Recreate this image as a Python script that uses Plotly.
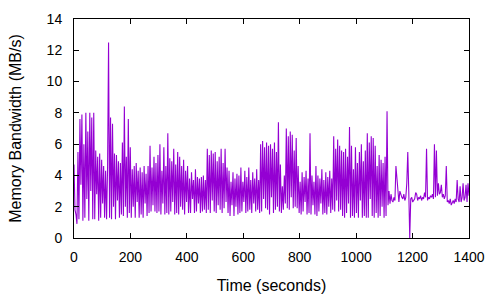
import plotly.graph_objects as go

STEP = 3.5  # sampling interval in seconds

bandwidth = [
    4.7, 1.8, 1.5, 0.9,
    5.5, 1.2, 7.6, 3.4, 7.9, 1.1, 6.0, 1.3, 8.0, 2.5, 6.8, 1.1, 8.0, 3.0, 7.7, 1.2,
    8.0, 1.2, 5.6, 2.8, 5.2, 1.1, 5.4, 1.3, 5.0, 2.2,
    4.6, 1.3, 4.3, 1.2, 4.5,
    12.5,
    1.3, 7.7, 1.2, 7.3, 2.0, 5.4, 1.2, 5.3, 2.4, 4.9,
    1.3, 4.8, 1.5, 6.1, 1.4, 8.4, 2.0, 5.2, 1.3, 7.6,
    1.6, 5.8, 1.3, 4.4, 2.0, 4.6, 1.3, 4.8, 2.3, 4.3,
    1.3, 4.5, 1.5, 4.2, 1.3, 4.6, 2.2, 4.1, 1.4, 4.6,
    1.6, 5.9, 1.7, 4.5, 2.1, 5.2, 1.7, 4.8, 1.6, 5.3,
    1.7, 6.0, 1.5, 4.3, 2.2, 5.8, 1.5, 4.6, 1.6, 6.7,
    1.5, 5.1, 1.7, 4.9, 2.3, 5.7, 1.5, 4.7, 1.6, 5.5,
    1.5, 5.2, 2.0, 4.6, 1.8, 5.0, 1.5, 4.3, 2.3, 4.6,
    1.6, 3.8, 1.6, 4.2, 2.5, 3.7, 1.6, 4.4, 1.7, 3.9,
    2.2, 3.8, 1.6, 3.9, 1.7, 4.0, 1.8, 3.7, 1.6, 5.7,
    1.8, 5.3, 1.6, 5.6, 2.4, 5.4, 1.7, 5.5, 1.6, 4.9,
    2.1, 5.2, 1.8, 5.7, 1.6, 4.8, 1.9, 5.7, 2.3, 4.5,
    1.6, 4.3, 1.4, 3.6, 2.1, 4.2, 1.4, 3.8, 2.0, 4.1,
    1.5, 4.0, 1.6, 4.5, 1.7, 3.6, 2.3, 4.3, 1.6, 3.9,
    1.7, 4.5, 1.8, 3.7, 1.6, 4.2, 2.2, 3.8, 1.7, 4.4,
    1.8, 3.7, 1.6, 6.0, 1.7, 6.2, 2.5, 5.8, 1.9, 6.1,
    1.8, 5.9, 1.5, 6.0, 2.6, 5.7, 1.6, 6.1, 1.8, 5.5,
    2.0, 7.4, 1.7, 4.7, 1.6, 3.3, 1.8, 4.0, 2.2, 7.0,
    1.9, 6.5, 1.8, 6.8, 2.6, 6.6, 1.9, 5.6, 2.0, 6.4,
    1.9, 4.6, 1.6, 3.6, 1.5, 4.2, 1.7, 3.9, 2.3, 4.3,
    1.5, 3.8, 1.6, 6.7, 1.5, 4.0, 2.1, 3.6, 1.5, 4.6,
    1.4, 4.0, 1.7, 3.8, 2.2, 4.4, 1.5, 3.7, 1.6, 4.2,
    1.5, 3.9, 2.0, 4.3, 1.6, 3.8, 1.8, 6.5, 1.7, 5.7,
    2.4, 6.3, 1.7, 5.9, 1.8, 5.6, 1.4, 5.5, 1.3, 5.7,
    1.6, 5.2, 2.2, 7.1, 1.3, 5.9, 1.4, 4.4, 1.3, 5.8,
    1.6, 4.8, 1.3, 5.5, 2.4, 6.0, 1.3, 4.9, 1.4, 5.6,
    1.3, 6.7, 1.3, 6.1, 2.5, 6.5, 1.4, 6.4, 1.3, 5.9,
    1.6, 4.6, 1.3, 5.3, 1.4, 5.0, 2.0, 4.8, 1.3, 5.2,
    1.4, 8.1, 2.1, 3.0, 2.2, 2.8, 2.4, 2.3, 2.6, 2.4,
    4.6, 3.6, 2.6, 2.3, 3.0, 2.7, 2.6, 2.5, 2.8, 2.4,
    2.6, 3.5, 5.5, 3.0, 0.0, 2.5, 2.6, 2.3, 2.4, 2.5,
    2.9, 2.8, 2.4, 2.6, 2.5, 2.7, 2.4, 2.6, 2.5, 2.9,
    2.6, 5.7, 2.4, 2.6, 2.5, 2.7, 2.6, 2.8, 2.5, 6.0,
    2.6, 5.6, 2.7, 3.5, 2.8, 2.9, 3.4, 2.6, 2.8, 2.5,
    2.7, 4.6, 2.3, 2.4, 2.2, 2.5, 2.1, 2.3, 2.4, 2.2,
    2.5, 2.3, 3.7, 2.5, 2.3, 3.3, 2.3, 2.6, 3.5, 2.4,
    2.6, 3.4, 2.3, 3.5, 2.7,
]
time_s = [i * STEP for i in range(len(bandwidth))]

x_ticks = [0, 200, 400, 600, 800, 1000, 1200, 1400]
y_ticks = [0, 2, 4, 6, 8, 10, 12, 14]

FONT = "Liberation Sans, Arial, sans-serif"

fig = go.Figure(
    go.Scatter(
        x=time_s, y=bandwidth, mode="lines",
        line=dict(color="#9400d3", width=1.1),
        showlegend=False, hoverinfo="skip",
    )
)

axis_common = dict(
    showgrid=False, zeroline=False, automargin=False,
    showline=True, linecolor="black", linewidth=1, mirror="ticks",
    ticks="inside", ticklen=5, tickcolor="black", tickwidth=1,
    tickfont=dict(family=FONT, size=14, color="black"),
)

fig.update_layout(
    width=500, height=300,
    margin=dict(l=74, r=31, t=19, b=62),
    paper_bgcolor="white", plot_bgcolor="white",
    font=dict(family=FONT, size=14, color="black"),
    xaxis=dict(
        range=[0, 1400], tickvals=x_ticks, ticklabelstandoff=6,
        title=dict(text="Time (seconds)", font=dict(family=FONT, size=16), standoff=16),
        **axis_common,
    ),
    yaxis=dict(
        range=[0, 14], tickvals=y_ticks, ticklabelstandoff=8,
        title=dict(text="Memory Bandwidth (MB/s)", font=dict(family=FONT, size=16), standoff=21),
        **axis_common,
    ),
)

fig.write_html(
    "out.html",
    config={"displayModeBar": False},
    post_script="document.body.style.margin='0';document.body.style.overflow='hidden';",
)
